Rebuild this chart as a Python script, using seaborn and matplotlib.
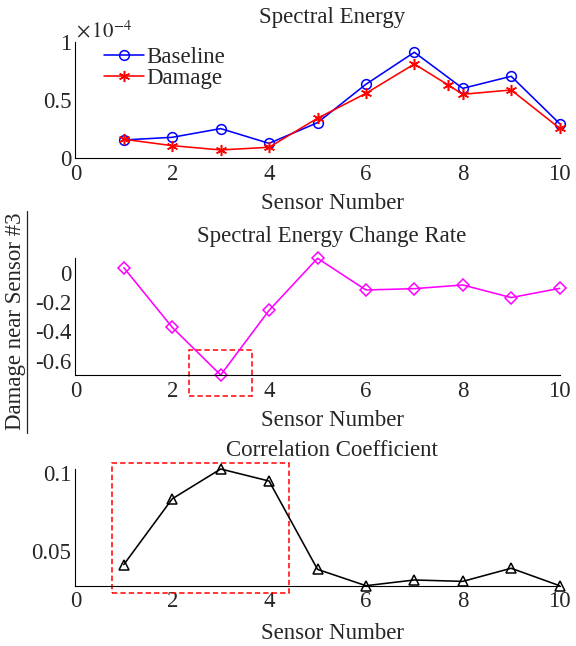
import matplotlib
matplotlib.use("Agg")
import matplotlib.pyplot as plt
import seaborn as sns
import numpy as np
from matplotlib.ticker import FuncFormatter
from matplotlib.patches import Rectangle
from matplotlib.lines import Line2D

# ---------------- data ----------------
sensors = [1, 2, 3, 4, 5, 6, 7, 8, 9, 10]
baseline_energy = [1.58e-5, 1.81e-5, 2.56e-5, 1.29e-5, 3.07e-5, 6.38e-5, 9.14e-5, 6.03e-5, 7.07e-5, 2.99e-5]
damage_sensors = [1, 2, 3, 4, 5, 6, 7, 7.69, 8, 9, 10]
damage_energy = [1.64e-5, 1.09e-5, 0.72e-5, 0.95e-5, 3.45e-5, 5.60e-5, 8.13e-5, 6.34e-5, 5.52e-5, 5.89e-5, 2.59e-5]
change_rate = [0.034, -0.373, -0.698, -0.257, 0.098, -0.118, -0.109, -0.084, -0.170, -0.107]
correlation = [0.0409, 0.0835, 0.1028, 0.0950, 0.0378, 0.0272, 0.0309, 0.0300, 0.0385, 0.0272]

titles = ["Spectral Energy", "Spectral Energy Change Rate", "Correlation Coefficient"]
xlabel_text = "Sensor Number"
side_label = "Damage near Sensor #3"
x_ticks = [0, 2, 4, 6, 8, 10]
energy_ticks = [0, 0.5e-4, 1e-4]
rate_ticks = [-0.6, -0.4, -0.2, 0]
corr_ticks = [0.05, 0.1]

# ---------------- style ----------------
sns.set_theme(style="white")
plt.rcParams["font.family"] = ["Liberation Serif", "DejaVu Serif"]
plt.rcParams["mathtext.fontset"] = "stix"
TXT = "#262626"
FS = 16.5

fig = plt.figure(figsize=(5.76, 6.46), dpi=100)
W, H = 576.0, 646.0
left = 75.4 / W
width = 484.2 / W
boxes = [(158.3, 116.0), (375.0, 116.7), (585.7, 116.7)]
axes = [fig.add_axes([left, 1 - b / H, width, h / H]) for b, h in boxes]

for ax in axes:
    for s in ["top", "right"]:
        ax.spines[s].set_visible(False)
    for s in ["left", "bottom"]:
        ax.spines[s].set_color("black")
        ax.spines[s].set_linewidth(0.8)
    ax.tick_params(direction="in", length=3.5, width=0.8, colors="black",
                   labelcolor=TXT, labelsize=FS, pad=4)
    ax.tick_params(axis="y", pad=3)
    ax.set_xlim(0, 10)
    ax.set_xticks(x_ticks)
    ax.set_xticklabels([str(t) for t in x_ticks])
    ax.set_facecolor("white")

# ---- panel 1 ----
ax = axes[0]
sns.lineplot(x=sensors, y=baseline_energy, ax=ax, color="blue", lw=1.15,
             marker="o", markersize=7, markerfacecolor="none", markeredgecolor="blue",
             markeredgewidth=1.1, label="Baseline", clip_on=False)
sns.lineplot(x=damage_sensors, y=damage_energy, ax=ax, color="red", lw=1.15,
             marker=(6, 2, 0), markersize=8, markeredgecolor="red",
             markeredgewidth=1.1, label="Damage", clip_on=False)
ax.set_ylim(0, 1e-4)
ax.set_yticks(energy_ticks)
ax.yaxis.set_major_formatter(FuncFormatter(lambda v, p: f"{v / 1e-4:g}"))
ax.text(0.002, 1.0, r"$\times\,10^{-4}$", transform=ax.transAxes, fontsize=15,
        color=TXT, ha="left", va="bottom")
leg = ax.legend(loc="upper left", bbox_to_anchor=(0.04, 1.04), frameon=False,
                fontsize=FS, handlelength=1.75, handletextpad=0.1,
                labelspacing=0.0, borderaxespad=0.0)
for t in leg.get_texts():
    t.set_color(TXT)

# ---- panel 2 ----
ax = axes[1]
sns.lineplot(x=sensors, y=change_rate, ax=ax, color="magenta", lw=1.15,
             marker="D", markersize=6.5, markerfacecolor="none", markeredgecolor="magenta",
             markeredgewidth=1.1, clip_on=False)
ax.set_ylim(min(change_rate), max(change_rate))
ax.set_yticks(rate_ticks)
ax.yaxis.set_major_formatter(FuncFormatter(lambda v, p: f"{v:g}"))
ax.add_patch(Rectangle((2.34, -0.839), 3.65 - 2.34, -0.5295 + 0.839, fill=False,
                       edgecolor="red", lw=1.1, linestyle=(0, (3.5, 2)), clip_on=False))

# ---- panel 3 ----
ax = axes[2]
sns.lineplot(x=sensors, y=correlation, ax=ax, color="black", lw=1.15,
             marker="^", markersize=7, markerfacecolor="none", markeredgecolor="black",
             markeredgewidth=1.1, clip_on=False)
ax.set_ylim(min(correlation), max(correlation))
ax.set_yticks(corr_ticks)
ax.yaxis.set_major_formatter(FuncFormatter(lambda v, p: f"{v:g}"))
ax.add_patch(Rectangle((0.75, 0.0227), 4.42 - 0.75, 0.1069 - 0.0227, fill=False,
                       edgecolor="red", lw=1.1, linestyle=(0, (3.5, 2)), clip_on=False))

# titles and x labels
pads = [13.7, 12.0, 9.4]
label_y = [-0.30, -0.30, -0.32]
for ax, t, p, ly in zip(axes, titles, pads, label_y):
    ax.set_title(t, fontsize=FS, color=TXT, pad=p, x=0.53)
    ax.set_xlabel(xlabel_text, fontsize=FS, color=TXT)
    ax.xaxis.set_label_coords(0.53, ly)
    ax.set_ylabel("")

# side label with underline
fig.text(16.0 / W, 1 - 321.7 / H, side_label, rotation=90, fontsize=FS, color=TXT,
         ha="center", va="center")
fig.add_artist(Line2D([26.5 / W, 26.5 / W], [1 - 433.0 / H, 1 - 210.7 / H],
                      transform=fig.transFigure, color=TXT, lw=0.9))

fig.savefig("out.png", dpi=100, facecolor="white")
